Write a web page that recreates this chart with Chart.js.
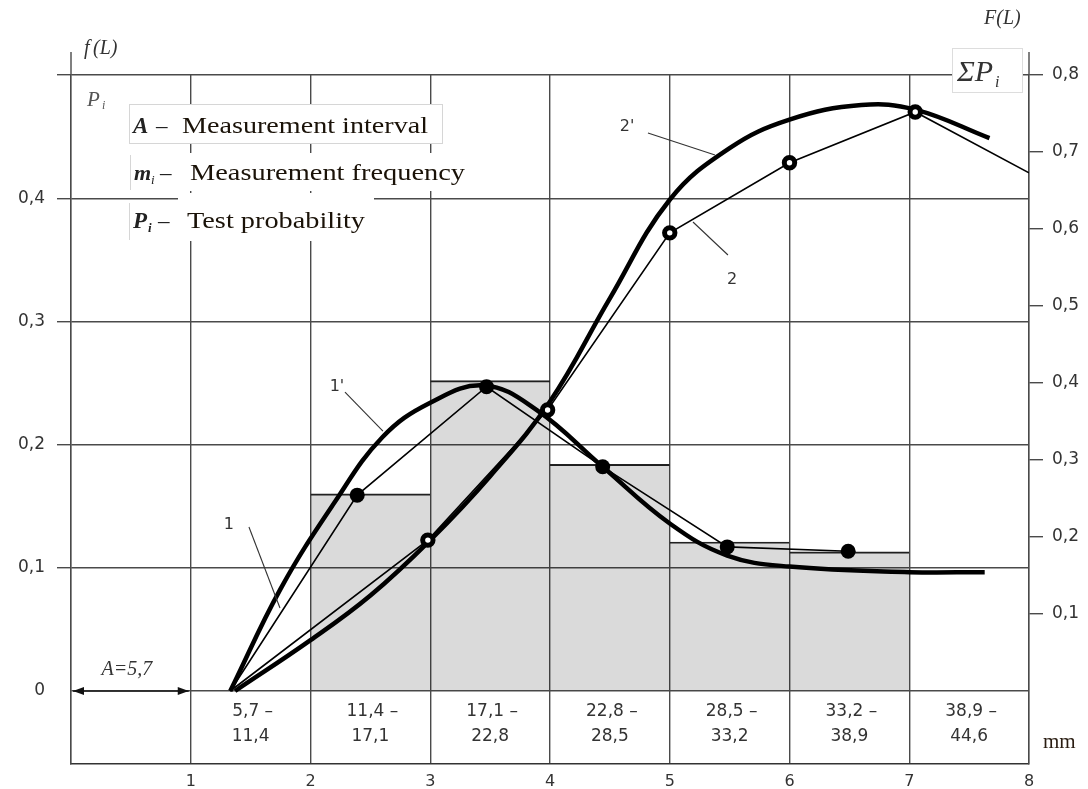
<!DOCTYPE html>
<html><head><meta charset="utf-8">
<script src="https://cdn.jsdelivr.net/npm/chart.js@4.4.1/dist/chart.umd.min.js"></script>
<style>html,body{margin:0;padding:0;background:#fff;}#wrap{width:1088px;height:789px;position:relative;}</style>
</head><body><div id="wrap"><canvas id="c"></canvas></div>
<script>
// ---- data ----
const xTicks = [0,1,2,3,4,5,6,7,8];
const leftTicks = [0,0.1,0.2,0.3,0.4,0.5];
const rightTicks = [0.1,0.2,0.3,0.4,0.5,0.6,0.7,0.8];
const intervalFrom = ['5,7','11,4','17,1','22,8','28,5','33,2','38,9'];
const intervalTo   = ['11,4','17,1','22,8','28,5','33,2','38,9','44,6'];
const intervalMid  = [1.5,2.5,3.5,4.5,5.5,6.5,7.5];
const barX = [2.5,3.5,4.5,5.5,6.5];
const barP = [0.160,0.252,0.184,0.121,0.113];
const poly1X = [1.33,2.39,3.47,4.44,5.48,6.49];
const poly1Y = [0,0.159,0.247,0.182,0.117,0.1135];
const curve1X = [1.33,1.75,2.2,2.6,3.0,3.45,3.89,4.44,5.0,5.48,6.0,7.0,7.63];
const curve1Y = [0,0.083,0.153,0.206,0.234,0.248,0.228,0.182,0.136,0.110,0.101,0.0965,0.0965];
const poly2X = [1.33,2.98,3.98,5.0,6.0,7.05,8.0];
const poly2Y = [0,0.196,0.365,0.595,0.686,0.752,0.673];
const curve2X = [1.37,2.0,2.5,3.0,3.5,4.0,4.5,5.0,5.5,6.0,6.6,7.05,7.67];
const curve2Y = [0,0.066,0.124,0.196,0.279,0.376,0.510,0.638,0.705,0.742,0.761,0.755,0.718];

const SANS = '"DejaVu Sans"';
const SERIF = '"Liberation Serif"';
const GRID = '#4a4a4a';
const fmt = v => v === 0 ? '0' : v.toFixed(1).replace('.', ',');
const pts = (xs, ys) => xs.map((v, i) => ({x: v, y: ys[i]}));

// annotation labels (data coords, left axis)
const notes = [
  {t:'1',  x:1.319, y:0.1347, lx1:1.486, ly1:0.1331, lx2:1.745, ly2:0.0674},
  {t:"1'", x:2.221, y:0.2467, lx1:2.288, ly1:0.2427, lx2:2.605, ly2:0.2110},
  {t:"2'", x:4.643, y:0.4578, lx1:4.818, ly1:0.4529, lx2:5.378, ly2:0.4351},
  {t:'2',  x:5.520, y:0.3336, lx1:5.194, ly1:0.3807, lx2:5.486, ly2:0.3539}
];

function stretchText(ctx, s, x, y, font, color, targetW) {
  ctx.font = font; ctx.fillStyle = color; ctx.textAlign = 'left'; ctx.textBaseline = 'alphabetic';
  if (targetW) {
    const w = ctx.measureText(s).width;
    ctx.save(); ctx.translate(x, y); ctx.scale(targetW / w, 1); ctx.fillText(s, 0, 0); ctx.restore();
  } else ctx.fillText(s, x, y);
}
function seg(ctx, x1, y1, x2, y2) { ctx.beginPath(); ctx.moveTo(x1, y1); ctx.lineTo(x2, y2); ctx.stroke(); }

const decor = {
  id: 'decor',
  afterDatasetsDraw(chart) {
    const {ctx, scales: {x, y}} = chart;
    ctx.save();
    ctx.strokeStyle = '#333'; ctx.lineWidth = 1.1;
    ctx.fillStyle = '#333'; ctx.font = '16px ' + SANS; ctx.textAlign = 'center'; ctx.textBaseline = 'middle';
    notes.forEach(n => {
      ctx.fillText(n.t, x.getPixelForValue(n.x), y.getPixelForValue(n.y));
      seg(ctx, x.getPixelForValue(n.lx1), y.getPixelForValue(n.ly1), x.getPixelForValue(n.lx2), y.getPixelForValue(n.ly2));
    });
    ctx.restore();
  },
  afterDraw(chart) {
    const {ctx, chartArea: a, scales: {x, y}} = chart;
    ctx.save();
    // axis extensions above plot
    ctx.strokeStyle = GRID; ctx.lineWidth = 1.4;
    seg(ctx, a.left, 52, a.left, a.top);
    seg(ctx, a.right, 52, a.right, a.top);
    // interval table labels
    const y0 = y.getPixelForValue(0);
    ctx.fillStyle = '#333'; ctx.font = '17px ' + SANS; ctx.textAlign = 'center'; ctx.textBaseline = 'middle';
    intervalMid.forEach((m, i) => {
      const px = x.getPixelForValue(m);
      ctx.fillText(intervalFrom[i] + ' –', px + 2, y0 + 21);
      ctx.fillText(intervalTo[i], px, y0 + 46);
    });
    // A = 5,7 arrow
    const xa = x.getPixelForValue(0) + 2, xb = x.getPixelForValue(1) - 2;
    ctx.strokeStyle = '#111'; ctx.fillStyle = '#111'; ctx.lineWidth = 1.3;
    seg(ctx, xa, y0, xb, y0);
    ctx.beginPath(); ctx.moveTo(xa, y0); ctx.lineTo(xa + 11, y0 - 4); ctx.lineTo(xa + 11, y0 + 4); ctx.closePath(); ctx.fill();
    ctx.beginPath(); ctx.moveTo(xb, y0); ctx.lineTo(xb - 11, y0 - 4); ctx.lineTo(xb - 11, y0 + 4); ctx.closePath(); ctx.fill();
    ctx.font = 'italic 20px ' + SERIF; ctx.textAlign = 'center'; ctx.textBaseline = 'alphabetic'; ctx.fillStyle = '#333';
    ctx.fillText('A=5,7', (xa + xb) / 2 - 4, y0 - 16);
    // mm
    ctx.font = '21px ' + SERIF; ctx.textAlign = 'left'; ctx.fillStyle = '#2a1d12';
    ctx.fillText('mm', 1043, 748);
    // axis titles
    ctx.fillStyle = '#333';
    ctx.font = 'italic 20px ' + SERIF; ctx.fillText('f', 84, 54); ctx.fillText('(L)', 93, 54);
    ctx.fillText('F(L)', 984, 24);
    ctx.fillStyle = '#555';
    ctx.font = 'italic 21px ' + SERIF; ctx.fillText('P', 87, 106);
    ctx.font = 'italic 12px ' + SERIF; ctx.fillText('i', 102, 109);
    // Sigma P_i box
    ctx.fillStyle = '#fff'; ctx.fillRect(952, 48, 71, 45);
    ctx.strokeStyle = '#ddd'; ctx.lineWidth = 1; ctx.strokeRect(952.5, 48.5, 70, 44);
    ctx.fillStyle = '#333';
    ctx.font = 'italic 30px ' + SERIF; ctx.fillText('ΣP', 957, 81);
    ctx.font = 'italic 16px ' + SERIF; ctx.fillText('i', 995, 87);
    // legend boxes
    ctx.fillStyle = '#fff';
    ctx.fillRect(128, 104, 315, 40);
    ctx.fillRect(128, 153, 342, 38);
    ctx.fillRect(178, 193, 196, 48);
    ctx.fillRect(128, 202, 52, 39);
    ctx.strokeStyle = '#d6d6d6'; ctx.lineWidth = 1;
    ctx.strokeRect(129.5, 104.5, 313, 39);
    seg(ctx, 130.5, 155, 130.5, 190);
    seg(ctx, 129.5, 203, 129.5, 240);
    const F = '23px ' + SERIF;
    // line 1
    stretchText(ctx, 'A', 133, 133, 'bold italic 23px ' + SERIF, '#222');
    stretchText(ctx, '–', 156, 133, F, '#222');
    stretchText(ctx, 'Measurement interval', 182, 133, F, '#1a1208', 246);
    // line 2
    stretchText(ctx, 'm', 134, 180, 'bold italic 22px ' + SERIF, '#222');
    stretchText(ctx, 'i', 151, 184, 'italic 13px ' + SERIF, '#222');
    stretchText(ctx, '–', 160, 180, F, '#222');
    stretchText(ctx, 'Measurement frequency', 190, 180, F, '#1a1208', 275);
    // line 3
    stretchText(ctx, 'P', 133, 228, 'bold italic 23px ' + SERIF, '#222');
    stretchText(ctx, 'i', 148, 232, 'bold italic 13px ' + SERIF, '#222');
    stretchText(ctx, '–', 158, 228, F, '#222');
    stretchText(ctx, 'Test probability', 187, 228, F, '#1a1208', 178);
    ctx.restore();
  }
};

Chart.defaults.font.family = SANS;
Chart.defaults.color = '#333';

new Chart(document.getElementById('c'), {
  type: 'line',
  data: {
    datasets: [
      { type: 'line', data: pts(poly2X, poly2Y), yAxisID: 'y2', borderColor: '#000', borderWidth: 1.6,
        pointRadius: c => (c.dataIndex === 0 || c.dataIndex === poly2X.length - 1) ? 0 : 5.2,
        pointBackgroundColor: '#fff', pointBorderColor: '#000', pointBorderWidth: 5, tension: 0, order: 0 },
      { type: 'line', data: pts(poly1X, poly1Y), yAxisID: 'y', borderColor: '#000', borderWidth: 1.6,
        pointRadius: c => c.dataIndex === 0 ? 0 : 7.5, pointBackgroundColor: '#000', pointBorderWidth: 0,
        tension: 0, order: 1 },
      { type: 'line', data: pts(curve1X, curve1Y), yAxisID: 'y', borderColor: '#000', borderWidth: 4.5,
        pointRadius: 0, tension: 0.4, order: 2 },
      { type: 'line', data: pts(curve2X, curve2Y), yAxisID: 'y2', borderColor: '#000', borderWidth: 4.5,
        pointRadius: 0, tension: 0.4, order: 2 },
      { type: 'bar', data: pts(barX, barP), yAxisID: 'y', backgroundColor: 'rgba(0,0,0,0.145)',
        borderColor: '#222', borderWidth: {top: 1.3, left: 0, right: 0, bottom: 0}, borderSkipped: 'start',
        barPercentage: 1, categoryPercentage: 1, order: 10 }
    ]
  },
  options: {
    responsive: true, maintainAspectRatio: false, animation: false,
    layout: { padding: { top: 75, left: 0, right: 0, bottom: 0 } },
    plugins: { legend: { display: false }, tooltip: { enabled: false } },
    scales: {
      x: {
        type: 'linear', min: 0, max: 8, offset: false,
        afterBuildTicks: s => { s.ticks = xTicks.map(v => ({value: v})); },
        afterFit: s => { s.height = 25; },
        ticks: { callback: v => v === 0 ? '' : String(v), font: { size: 16 }, padding: 8, maxRotation: 0, color: '#333' },
        grid: { color: GRID, lineWidth: 1.4, drawTicks: false, offset: false },
        border: { display: true, color: '#333', width: 1.6 }
      },
      y: {
        type: 'linear', position: 'left', min: -0.0592, max: 0.5,
        afterBuildTicks: s => { s.ticks = leftTicks.map(v => ({value: v})); },
        afterFit: s => { s.width = 71; },
        ticks: { callback: v => v === 0.5 ? '' : fmt(v), font: { size: 17 }, padding: 12, color: '#333' },
        grid: { color: GRID, lineWidth: 1.4, tickLength: 14, tickColor: c => (c.tick && c.tick.value === 0) ? 'rgba(0,0,0,0)' : GRID },
        border: { display: true, color: GRID, width: 1.4 }
      },
      y2: {
        type: 'linear', position: 'right', min: -0.0948, max: 0.8,
        afterBuildTicks: s => { s.ticks = rightTicks.map(v => ({value: v})); },
        afterFit: s => { s.width = 59; },
        ticks: { callback: v => fmt(v), font: { size: 17 }, padding: 9, color: '#333' },
        grid: { drawOnChartArea: false, color: GRID, lineWidth: 1.4, tickLength: 14 },
        border: { display: true, color: GRID, width: 1.4 }
      }
    }
  },
  plugins: [decor]
});
</script>
</body></html>
